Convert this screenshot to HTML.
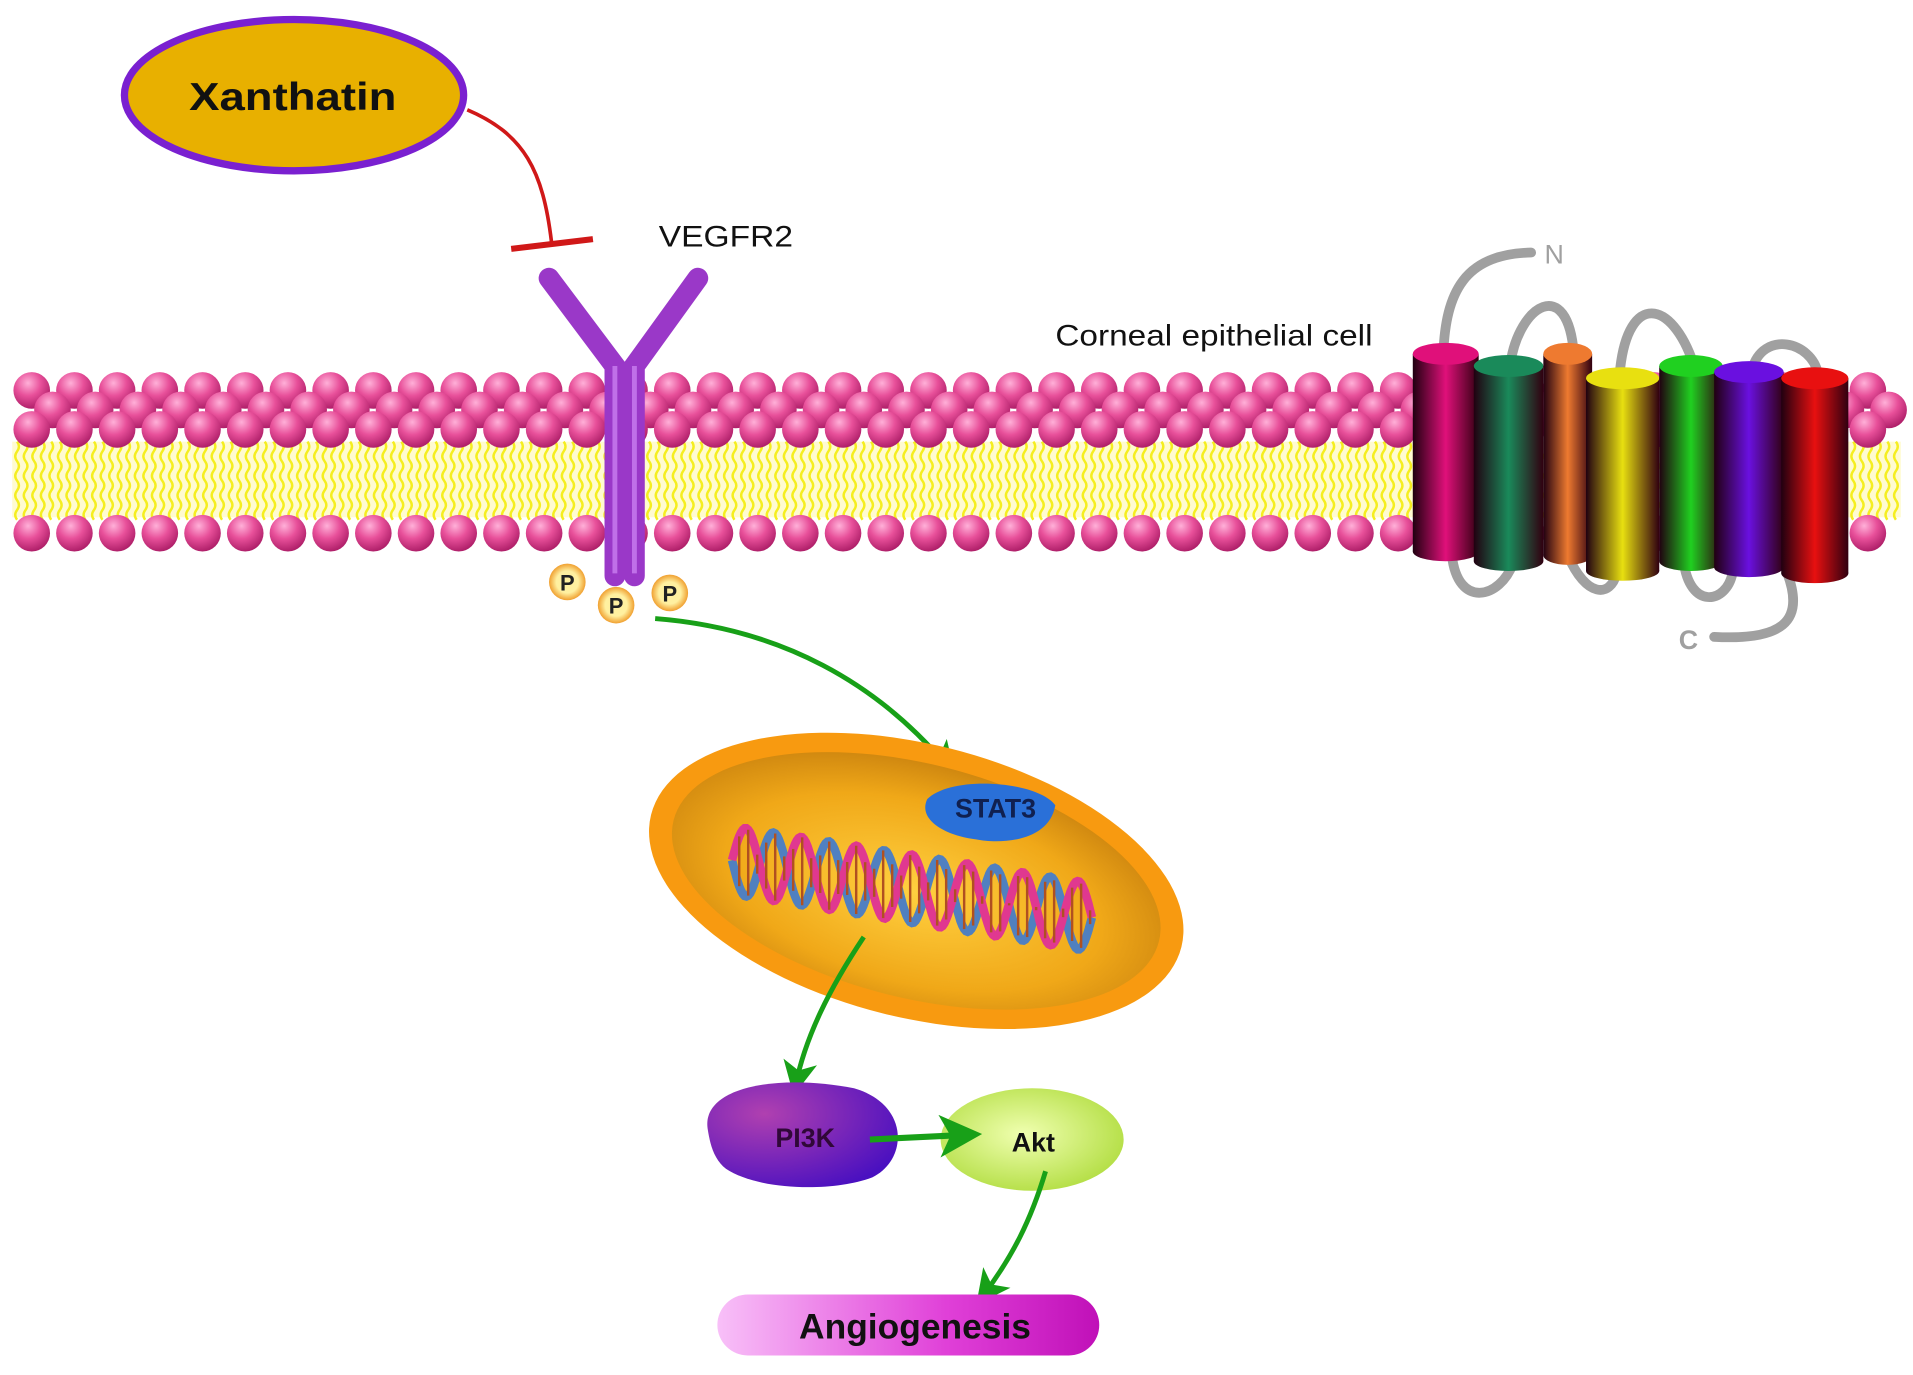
<!DOCTYPE html>
<html><head><meta charset="utf-8"><style>
html,body{margin:0;padding:0;background:#fff;width:1913px;height:1375px;overflow:hidden}
svg{display:block}
text{font-family:"Liberation Sans",Arial,sans-serif}
</style></head><body>
<svg id="s" width="1913" height="1375" viewBox="0 0 1568 1127" preserveAspectRatio="none" xmlns="http://www.w3.org/2000/svg">
<defs>
<radialGradient id="head" cx="0.4" cy="0.3" r="0.7"><stop offset="0" stop-color="#ffb0d8"/><stop offset="0.5" stop-color="#e8509a"/><stop offset="1" stop-color="#b0206a"/></radialGradient>
<radialGradient id="nuc" cx="0.5" cy="0.55" r="0.55"><stop offset="0" stop-color="#ffd040"/><stop offset="0.7" stop-color="#f0a818"/><stop offset="1" stop-color="#d08810"/></radialGradient>
<radialGradient id="pi3k" cx="0.3" cy="0.3" r="0.8"><stop offset="0" stop-color="#b040b0"/><stop offset="1" stop-color="#4a10c0"/></radialGradient>
<radialGradient id="akt" cx="0.45" cy="0.45" r="0.7"><stop offset="0" stop-color="#f0ffb0"/><stop offset="1" stop-color="#a8d830"/></radialGradient>
<linearGradient id="ang" x1="0" x2="1"><stop offset="0" stop-color="#f8c0f8"/><stop offset="0.6" stop-color="#e040d8"/><stop offset="1" stop-color="#c010b8"/></linearGradient>
<radialGradient id="pg" cx="0.5" cy="0.5" r="0.5"><stop offset="0.6" stop-color="#fff0a0"/><stop offset="1" stop-color="#f0a030"/></radialGradient>
<marker id="ga" markerWidth="7" markerHeight="7" refX="5" refY="3.5" orient="auto" markerUnits="strokeWidth"><path d="M0,0 L7,3.5 L0,7 L1.8,3.5z" fill="#18a018"/></marker>
</defs>
<g id="mem"></g>
<ellipse cx="241" cy="78" rx="139" ry="62" fill="#e8b000" stroke="#7a20d0" stroke-width="6"/>
<text x="155" y="90" font-size="32" font-weight="bold" textLength="170" lengthAdjust="spacingAndGlyphs" fill="#111">Xanthatin</text>
<path d="M383,90 C430,110 445,140 452,198" fill="none" stroke="#d01818" stroke-width="3"/>
<path d="M419,204 L486,196" stroke="#d01818" stroke-width="5"/>
<text x="540" y="202" font-size="24" textLength="110" lengthAdjust="spacingAndGlyphs" fill="#111">VEGFR2</text>
<text x="865" y="283" font-size="24" textLength="260" lengthAdjust="spacingAndGlyphs" fill="#111">Corneal epithelial cell</text>
<g stroke="#9a38c8" stroke-width="17" stroke-linecap="round" fill="none">
<path d="M450,228 L504,300 L504,472"/>
<path d="M572,228 L520,300 L520,472"/>
</g>
<path d="M504,300 L504,470 M520,300 L520,470" stroke="#c070e8" stroke-width="4"/>
<g font-size="18" font-weight="bold" text-anchor="middle" fill="#222">
<circle cx="465" cy="477" r="15" fill="url(#pg)"/><text x="465" y="484">P</text>
<circle cx="505" cy="496" r="15" fill="url(#pg)"/><text x="505" y="503">P</text>
<circle cx="549" cy="486" r="15" fill="url(#pg)"/><text x="549" y="493">P</text>
</g>
<path d="M537,507 C640,515 720,560 778,630" fill="none" stroke="#18a018" stroke-width="4" marker-end="url(#ga)"/>
<ellipse cx="751" cy="722" rx="224" ry="112" transform="rotate(14 751 722)" fill="#f89a10"/>
<ellipse cx="751" cy="722" rx="205" ry="96" transform="rotate(14 751 722)" fill="url(#nuc)"/>
<path d="M760,655 C780,635 850,640 865,660 C860,690 820,692 800,688 C775,685 752,672 760,655z" fill="#2a70d8"/>
<text x="816" y="670" font-size="22" font-weight="bold" text-anchor="middle" fill="#102050">STAT3</text>
<g id="dna"></g>
<path d="M708,768 C680,810 660,850 652,890" fill="none" stroke="#18a018" stroke-width="4" marker-end="url(#ga)"/>
<path d="M580,925 C575,890 640,880 700,892 C745,905 745,950 715,965 C680,978 620,975 595,958 C585,950 582,938 580,925z" fill="url(#pi3k)"/>
<text x="660" y="940" font-size="22" font-weight="bold" text-anchor="middle" fill="#300838">PI3K</text>
<ellipse cx="846" cy="934" rx="75" ry="42" fill="url(#akt)"/>
<text x="847" y="944" font-size="22" font-weight="bold" text-anchor="middle" fill="#111">Akt</text>
<path d="M713,934 L795,930" fill="none" stroke="#18a018" stroke-width="5" marker-end="url(#ga)"/>
<path d="M857,960 C845,1000 830,1030 805,1063" fill="none" stroke="#18a018" stroke-width="4" marker-end="url(#ga)"/>
<rect x="588" y="1061" width="313" height="50" rx="25" fill="url(#ang)"/>
<text x="750" y="1097" font-size="29" font-weight="bold" text-anchor="middle" fill="#111">Angiogenesis</text>
<g fill="none" stroke="#a0a0a0" stroke-width="8" stroke-linecap="round">
<path d="M1183,290 C1185,240 1200,208 1255,207"/>
<path d="M1238,298 C1245,250 1285,225 1290,290"/>
<path d="M1328,302 C1335,240 1370,245 1388,298"/>
<path d="M1436,303 C1445,270 1485,280 1490,306"/>
<path d="M1190,455 C1195,500 1230,490 1240,462"/>
<path d="M1285,455 C1300,490 1320,490 1325,470"/>
<path d="M1380,460 C1385,500 1415,495 1420,470"/>
<path d="M1465,470 C1480,510 1460,525 1405,522"/>
</g>
<text x="1266" y="216" font-size="22" fill="#a0a0a0">N</text>
<text x="1376" y="532" font-size="22" font-weight="bold" fill="#a0a0a0">C</text>
<g id="cyl"></g>
</svg>
<script>
var NS="http://www.w3.org/2000/svg";
function el(t,a,p){var e=document.createElementNS(NS,t);for(var k in a)e.setAttribute(k,a[k]);p.appendChild(e);return e;}
var m=document.getElementById('mem');
el('rect',{x:10,y:362,width:1548,height:62,fill:'#fffbd0'},m);
for(var x=14;x<1558;x+=7){var d='M'+x+',362';for(var y=362;y<424;y+=8){d+=' q'+(((y-362)/8)%2?-3:3)+',4 0,8';}el('path',{d:d,stroke:'#f5ee20','stroke-width':2,fill:'none'},m);}
for(var r=0;r<3;r++){var yy=[320,336,352][r];var off=[0,17,0][r];for(var x=26+off;x<1560;x+=35)el('circle',{cx:x,cy:yy,r:15,fill:'url(#head)'},m);}
for(var x=26;x<1560;x+=35)el('circle',{cx:x,cy:437,r:15,fill:'url(#head)'},m);
var c=document.getElementById('cyl');
var cy=[[1158,1212,290,452,'#e0107a'],[1208,1265,300,460,'#1a8a5a'],[1265,1305,290,455,'#ee7a30'],[1300,1360,310,468,'#e8e010'],[1360,1412,300,460,'#20d020'],[1405,1462,305,465,'#6a10e0'],[1460,1515,310,470,'#e81010']];
var defs=document.querySelector('defs');
cy.forEach(function(q,i){var g=el('linearGradient',{id:'cg'+i,x1:0,x2:1},defs);
el('stop',{offset:0,'stop-color':'#200010'},g);el('stop',{offset:0.5,'stop-color':q[4]},g);el('stop',{offset:1,'stop-color':'#300010'},g);
var w=q[1]-q[0];el('rect',{x:q[0],y:q[2],width:w,height:q[3]-q[2],fill:'url(#cg'+i+')'},c);
el('ellipse',{cx:q[0]+w/2,cy:q[3],rx:w/2,ry:8,fill:'url(#cg'+i+')'},c);
el('ellipse',{cx:q[0]+w/2,cy:q[2],rx:w/2,ry:9,fill:q[4]},c);});
var dn=document.getElementById('dna');
var x0=600,x1=895,y0=705,y1=752;
for(var k=0;k<2;k++){var d='';for(var t=0;t<=1.0001;t+=0.005){var x=x0+(x1-x0)*t,yb=y0+(y1-y0)*t,y=yb+28*Math.sin(t*6.5*2*Math.PI+k*Math.PI);d+=(t?'L':'M')+x.toFixed(1)+','+y.toFixed(1);}
el('path',{d:d,fill:'none',stroke:k?'#e03890':'#5080c0','stroke-width':7},dn);}
for(var t=0.02;t<1;t+=0.025){var x=x0+(x1-x0)*t,yb=y0+(y1-y0)*t,s=28*Math.sin(t*6.5*2*Math.PI);el('line',{x1:x,y1:yb+s,x2:x,y2:yb-s,stroke:'#b05020','stroke-width':2},dn);}
</script>
</body></html>
